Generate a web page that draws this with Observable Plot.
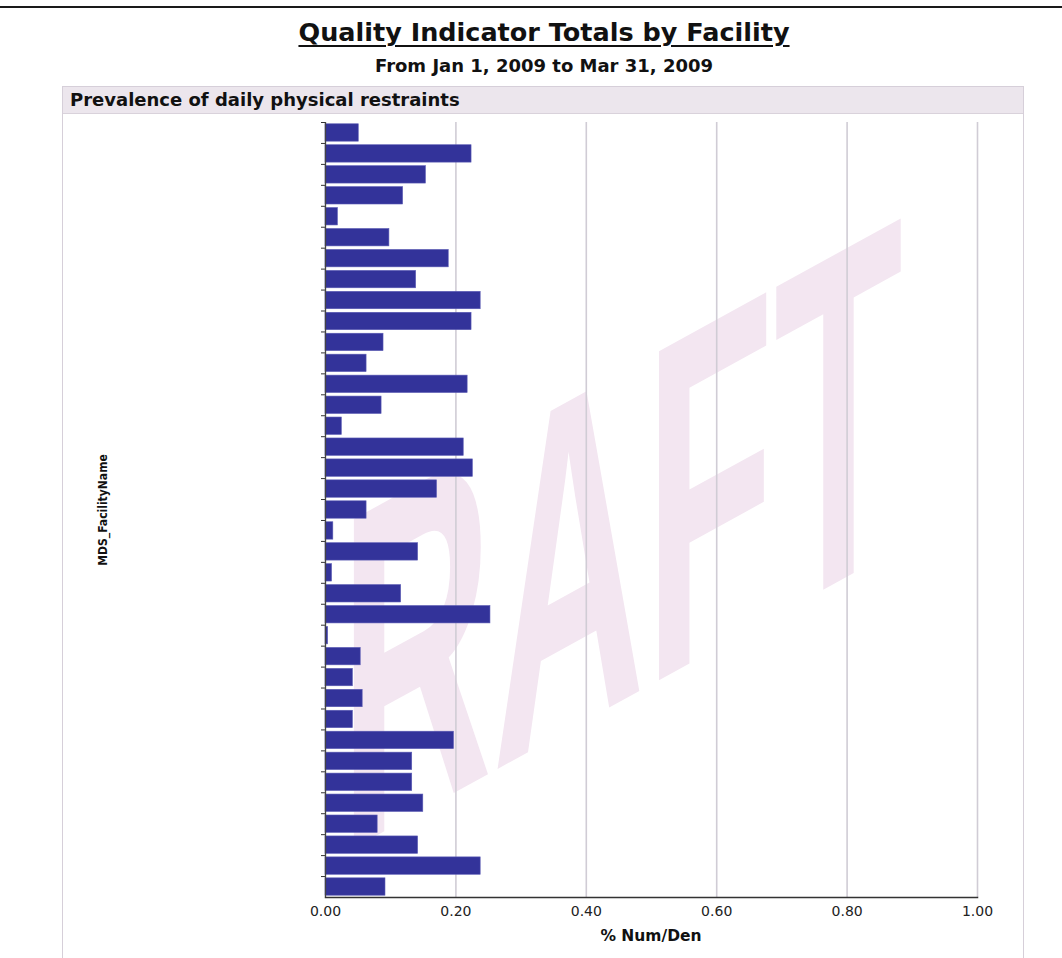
<!DOCTYPE html>
<html>
<head>
<meta charset="utf-8">
<script src="https://cdn.jsdelivr.net/npm/d3@7"></script>
<script src="https://cdn.jsdelivr.net/npm/@observablehq/plot@0.6"></script>
<style>
  html, body { margin: 0; padding: 0; background: #fff; }
  #page { position: relative; width: 1062px; height: 958px; overflow: hidden; font-family: "DejaVu Sans", Verdana, sans-serif; }
  #rule { position: absolute; left: 0; top: 6px; width: 1062px; height: 2px; background: #1a1a1a; }
  #title { position: absolute; left: 0; width: 1088px; top: 17px; text-align: center; font-weight: bold; font-size: 25.5px; line-height: normal; text-decoration: underline; text-decoration-thickness: 2px; text-underline-offset: 4px; color: #111; white-space: nowrap; }
  #subtitle { position: absolute; left: 0; width: 1088px; top: 55px; text-align: center; font-weight: bold; font-size: 18px; line-height: normal; color: #111; white-space: nowrap; }
  #panel { position: absolute; left: 62px; top: 86px; width: 960px; height: 900px; border: 1px solid #d6cfd9; }
  #panelhead { position: absolute; left: 0; top: 0; width: 960px; height: 26px; background: #ece6ed; border-bottom: 1px solid #d9d2db; }
  #panelhead span { position: absolute; left: 7px; top: 2px; font-weight: bold; font-size: 18px; line-height: normal; color: #111; white-space: nowrap; }
  #wm { position: absolute; left: 0; top: 0; }
  #chart { position: absolute; left: 63px; top: 114px; }
  #ylabel { position: absolute; left: 103px; top: 510px; transform: translate(-50%, -50%) rotate(-90deg); font-family: "DejaVu Sans Condensed", "DejaVu Sans", sans-serif; font-weight: bold; font-size: 12px; white-space: nowrap; color: #111; }
  #xlabel { position: absolute; left: 651px; top: 927px; transform: translateX(-50%); font-weight: bold; font-size: 15.5px; line-height: normal; white-space: nowrap; color: #111; }
</style>
</head>
<body>
<div id="page">
  <div id="rule"></div>
  <div id="title">Quality Indicator Totals by Facility</div>
  <div id="subtitle">From Jan 1, 2009 to Mar 31, 2009</div>
  <div id="panel"><div id="panelhead"><span>Prevalence of daily physical restraints</span></div></div>
  <svg id="wm" width="1062" height="958"></svg>
  <div id="chart"></div>
  <div id="ylabel">MDS_FacilityName</div>
  <div id="xlabel">% Num/Den</div>
</div>
<script>
// ---- data ----
const facilities = [
  "F01","F02","F03","F04","F05","F06","F07","F08","F09","F10",
  "F11","F12","F13","F14","F15","F16","F17","F18","F19","F20",
  "F21","F22","F23","F24","F25","F26","F27","F28","F29","F30",
  "F31","F32","F33","F34","F35","F36","F37"
];
const pctNumDen = [
  0.051, 0.224, 0.154, 0.119, 0.019, 0.098, 0.189, 0.139, 0.238, 0.224,
  0.089, 0.063, 0.218, 0.086, 0.025, 0.212, 0.226, 0.171, 0.063, 0.012,
  0.142, 0.010, 0.116, 0.253, 0.004, 0.054, 0.042, 0.057, 0.042, 0.197,
  0.133, 0.133, 0.150, 0.080, 0.142, 0.238, 0.092
];
const xTicks = [0, 0.2, 0.4, 0.6, 0.8, 1.0];
const watermarkText = "RAFT";

const data = facilities.map((f, i) => ({facility: f, value: pctNumDen[i]}));

// ---- layout ----
const W = 960, H = 840;
const mL = 262, mR = 46, mT = 8, mB = 57;
const step = (H - mT - mB) / facilities.length;

// watermark behind the plot
d3.select("#wm").append("text")
  .attr("text-anchor", "end")
  .attr("font-family", "Liberation Sans, Arial, sans-serif")
  .attr("font-weight", "bold")
  .attr("font-size", 478)
  .attr("fill", "#f3e6f1")
  .attr("transform", "translate(903,546) skewY(-28.8) scale(0.442,1)")
  .text(watermarkText);

const chart = Plot.plot({
  width: W,
  height: H,
  marginLeft: mL,
  marginRight: mR,
  marginTop: mT,
  marginBottom: mB,
  style: {background: "transparent", fontFamily: "DejaVu Sans, Verdana, sans-serif", fontSize: "14px", color: "#222"},
  x: {domain: [0, 1]},
  y: {domain: facilities, paddingInner: 0.17, paddingOuter: 0.085},
  marks: [
    Plot.gridX(xTicks.slice(1), {stroke: "#d0ccd5", strokeOpacity: 1, strokeWidth: 1.6}),
    Plot.barX(data, {x: "value", y: "facility", fill: "#33339a", stroke: "#5a5ab4", strokeWidth: 0.6}),
    Plot.axisY({tickFormat: () => "", tickSize: 4, label: null, dy: -step / 2, stroke: "#333"}),
    Plot.ruleX([0], {stroke: "#444", strokeWidth: 1.3}),
    Plot.frame({anchor: "bottom", stroke: "#333", strokeWidth: 1.5}),
    Plot.axisX(xTicks, {tickSize: 0, tickPadding: 9, tickFormat: d3.format(".2f"), label: null, fill: "#222"})
  ]
});
document.getElementById("chart").appendChild(chart);
</script>
</body>
</html>
